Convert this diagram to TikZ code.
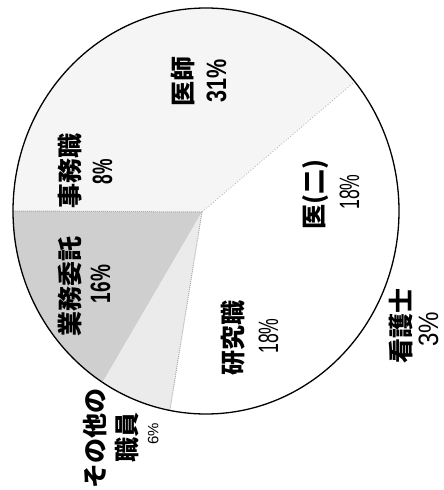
\documentclass[tikz,border=0pt]{standalone}
\usepackage{fontspec}
\newfontfamily\cjk{Noto Sans CJK JP}
\newfontfamily\numf{Liberation Sans}
\tikzset{
  lab/.style={rotate=90, inner sep=0pt, font=\cjk\bfseries\fontsize{25}{25}\selectfont},
  pct/.style={rotate=90, inner sep=0pt, text height=20pt, text depth=0pt, font=\numf\fontsize{28}{28}\selectfont},
  pctb/.style={pct, font=\numf\bfseries\fontsize{28}{28}\selectfont},
  edge/.style={gray!65, line width=1pt, densely dotted},
  lightedge/.style={gray!55, line width=0.9pt, dotted},
}
\begin{document}
\begin{tikzpicture}[x=1pt, y=-1pt]
\useasboundingbox (0,0) rectangle (444,490);
\fill[white] (0,0) rectangle (444,490);
% pie, math orientation inside scope
\begin{scope}[shift={(206,211)}, yscale=-1]
  \coordinate (apex) at (-4,-1);
  % 医師 + 事務職 (light)
  \fill[gray!8] (apex) -- (39.6:193 and 203) arc[start angle=39.6, end angle=180, x radius=193, y radius=203] -- cycle;
  % 業務委託
  \fill[gray!38] (apex) -- (180:193 and 203) arc[start angle=180, end angle=237.6, x radius=193, y radius=203] -- cycle;
  % その他の職員
  \fill[gray!16] (apex) -- (237.6:193 and 203) arc[start angle=237.6, end angle=259.2, x radius=193, y radius=203] -- cycle;
  \coordinate (eL) at (180:193 and 203);
  \coordinate (eD) at (259.2:193 and 203);
  \coordinate (eR) at (39.6:193 and 203);
  \draw[edge] (apex) -- (eL);
  \draw[edge] (apex) -- (eD);
  \draw[lightedge] (apex) -- (eR);
  \draw[black, line width=1.3pt] (0,0) ellipse[x radius=193, y radius=203];
\end{scope}
% labels
\node[lab] (ishi) at (183,81) {医師};
\node[pctb] (iship) at (216,81) {\scalebox{0.77}[1]{31\%}};
\node[lab] (jimu) at (70,171) {事務職};
\node[pctb] (jimup) at (102,172) {\scalebox{0.62}[1]{8\%}};
\node[lab] (gyomu) at (70,286) {業務委託};
\node[pctb] (gyomup) at (100,284) {\scalebox{0.68}[1]{16\%}};
\node[lab] (kenkyu) at (233,338) {研究職};
\node[pct] (kenkyup) at (268,336) {\scalebox{0.63}[1]{18\%}};
\node[lab] (i2) at (316,194) {医(二)};
\node[pct] (i2p) at (349,192) {\scalebox{0.63}[1]{18\%}};
\node[lab] (kango) at (401,326) {看護士};
\node[pct] (kangop) at (428,329) {\scalebox{0.86}[1]{3\%}};
\node[lab] (sono) at (95,438) {その他の};
\node[lab] (shokuin) at (127,437) {職員};
\node[pct, text height=10.7pt, font=\numf\fontsize{15}{15}\selectfont] (sonop) at (153,434) {6\%};
\end{tikzpicture}
\end{document}
